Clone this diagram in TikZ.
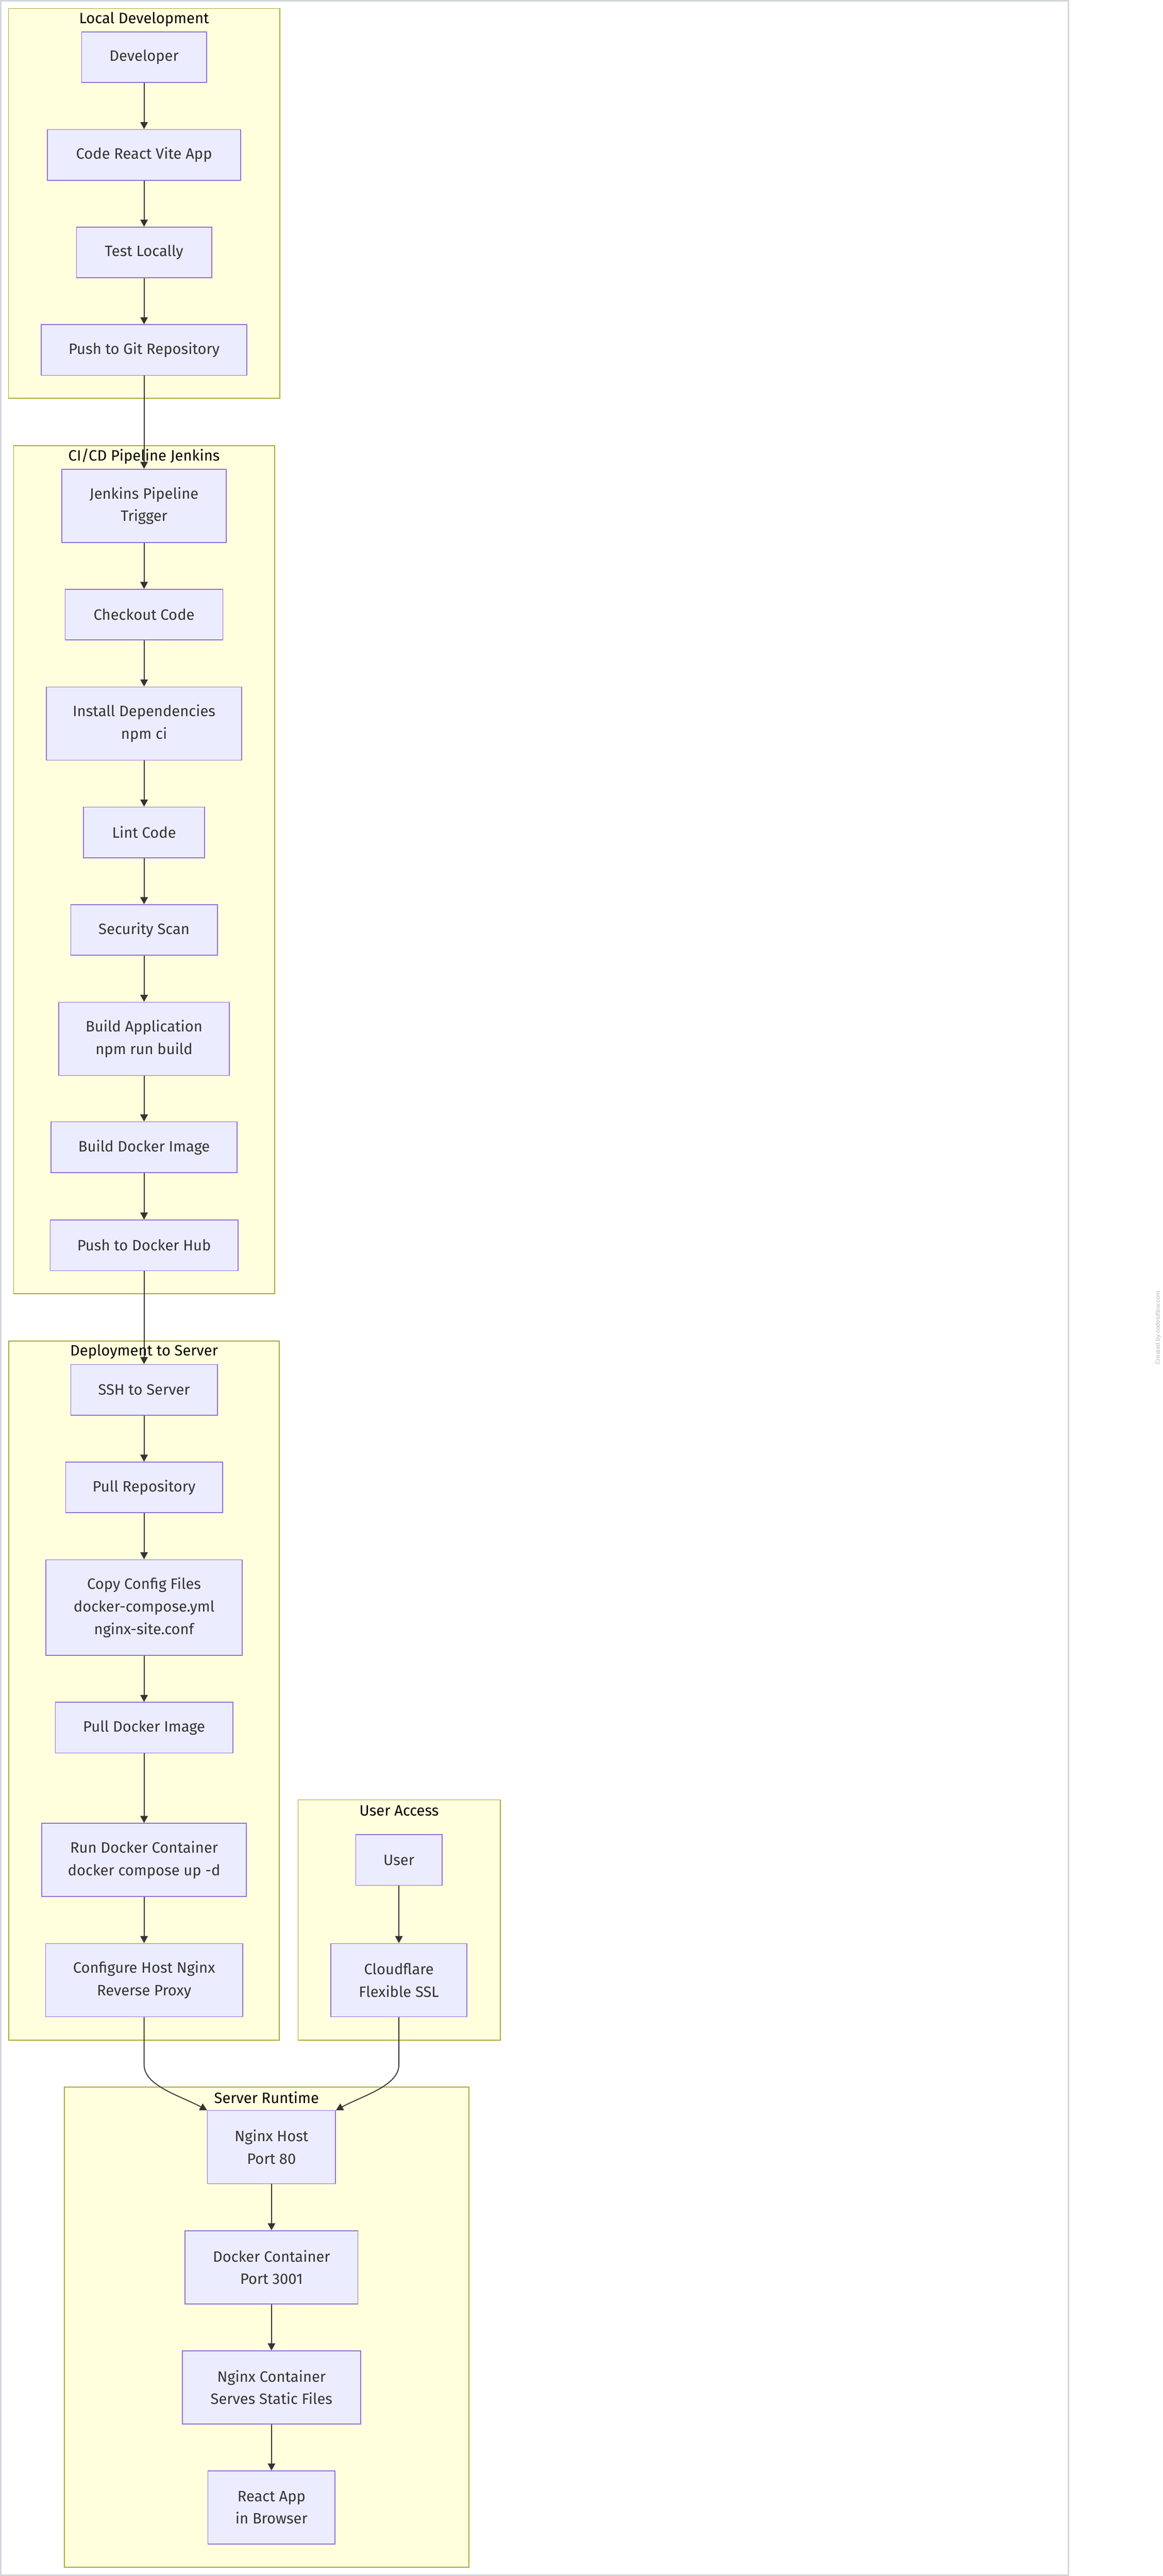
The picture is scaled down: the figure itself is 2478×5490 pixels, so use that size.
\documentclass[tikz,border=0pt]{standalone}
\usepackage{fontspec}
\usetikzlibrary{arrows.meta}
\newfontfamily\nodefont{Fira Sans}
\newfontfamily\wmfont{Liberation Sans}
\definecolor{nodefill}{HTML}{ECECFF}
\definecolor{nodeline}{HTML}{9370DB}
\definecolor{framefill}{HTML}{FFFFDE}
\definecolor{frameline}{HTML}{AAAA33}
\definecolor{edgecol}{HTML}{333333}
\definecolor{txtcol}{HTML}{333333}
\definecolor{bordercol}{HTML}{D3D7DE}
\definecolor{wmcol}{HTML}{B8B8B8}
\begin{document}
\begin{tikzpicture}[x=1pt,y=-1pt,
  box/.style={rectangle, fill=nodefill, draw=nodeline, line width=1.8pt, text=txtcol,
    font=\nodefont\fontsize{32}{48}\selectfont, align=center, inner sep=0pt},
  frame/.style={fill=framefill, draw=frameline, line width=1.8pt},
  ftitle/.style={font=\nodefont\fontsize{32}{40}\selectfont, text=black, inner sep=0pt},
  arr/.style={draw=edgecol, line width=2pt, -{Triangle[length=15pt,width=16pt]}}]
\useasboundingbox (0,0) rectangle (2478,5490);
\fill[white] (0,0) rectangle (2478,5490);
\draw[bordercol, line width=3pt] (1.5,1.5) rectangle (2277,5488.5);
\node[rotate=90, font=\wmfont\fontsize{13}{15}\selectfont, text=wmcol, inner sep=0pt] (wm) at (2468,2830) {Created by codetoflow.com};

% frames
\draw[frame] (18,18) rectangle (596,849);
\node[ftitle] (tld) at (307,41) {Local Development};
\draw[frame] (29,950) rectangle (585,2757);
\node[ftitle] (tci) at (307,973) {CI/CD Pipeline Jenkins};
\draw[frame] (19,2858) rectangle (595,4348);
\node[ftitle] (tdep) at (307,2881) {Deployment to Server};
\draw[frame] (635,3836) rectangle (1066,4348);
\node[ftitle] (tua) at (850.5,3859) {User Access};
\draw[frame] (137,4448) rectangle (999,5471);
\node[ftitle] (tsr) at (568,4470) {Server Runtime};

% Local Development
\node[box, minimum width=266pt, minimum height=108pt] (dev) at (307,122) {Developer};
\node[box, minimum width=412pt, minimum height=108pt] (code) at (307,330) {Code React Vite App};
\node[box, minimum width=288pt, minimum height=108pt] (test) at (307,538) {Test Locally};
\node[box, minimum width=438pt, minimum height=108pt] (push) at (307,746) {Push to Git Repository};

% CI/CD
\node[box, minimum width=350pt, minimum height=156pt] (jen) at (307,1078) {Jenkins Pipeline\\Trigger};
\node[box, minimum width=336pt, minimum height=108pt] (chk) at (307,1310) {Checkout Code};
\node[box, minimum width=416pt, minimum height=156pt] (inst) at (307,1542) {Install Dependencies\\npm ci};
\node[box, minimum width=258pt, minimum height=108pt] (lint) at (307,1774) {Lint Code};
\node[box, minimum width=312pt, minimum height=108pt] (sec) at (307,1982) {Security Scan};
\node[box, minimum width=363pt, minimum height=156pt] (bapp) at (307,2214) {Build Application\\npm run build};
\node[box, minimum width=396pt, minimum height=108pt] (bimg) at (307,2445) {Build Docker Image};
\node[box, minimum width=400pt, minimum height=108pt] (pdh) at (307,2654) {Push to Docker Hub};

% Deployment
\node[box, minimum width=312pt, minimum height=108pt] (ssh) at (307,2962) {SSH to Server};
\node[box, minimum width=334pt, minimum height=108pt] (prepo) at (307,3170) {Pull Repository};
\node[box, minimum width=418pt, minimum height=204pt] (copy) at (307,3426) {Copy Config Files\\docker-compose.yml\\nginx-site.conf};
\node[box, minimum width=378pt, minimum height=108pt] (pimg) at (307,3682) {Pull Docker Image};
\node[box, minimum width=436pt, minimum height=156pt] (run) at (307,3964) {Run Docker Container\\docker compose up -d};
\node[box, minimum width=420pt, minimum height=156pt] (conf) at (307,4220) {Configure Host Nginx\\Reverse Proxy};

% User Access
\node[box, minimum width=184pt, minimum height=108pt] (user) at (850,3964) {User};
\node[box, minimum width=290pt, minimum height=156pt] (cf) at (850,4220) {Cloudflare\\Flexible SSL};

% Server Runtime
\node[box, minimum width=273pt, minimum height=156pt] (nh) at (578.5,4576) {Nginx Host\\Port 80};
\node[box, minimum width=368pt, minimum height=156pt] (dc) at (578.5,4832) {Docker Container\\Port 3001};
\node[box, minimum width=380pt, minimum height=156pt] (nc) at (578.5,5088) {Nginx Container\\Serves Static Files};
\node[box, minimum width=271pt, minimum height=156pt] (app) at (578.5,5344) {React App\\in Browser};

% edges
\draw[arr] (dev) -- (code);
\draw[arr] (code) -- (test);
\draw[arr] (test) -- (push);
\draw[arr] (push) -- (jen);
\draw[arr] (jen) -- (chk);
\draw[arr] (chk) -- (inst);
\draw[arr] (inst) -- (lint);
\draw[arr] (lint) -- (sec);
\draw[arr] (sec) -- (bapp);
\draw[arr] (bapp) -- (bimg);
\draw[arr] (bimg) -- (pdh);
\draw[arr] (pdh) -- (ssh);
\draw[arr] (ssh) -- (prepo);
\draw[arr] (prepo) -- (copy);
\draw[arr] (copy) -- (pimg);
\draw[arr] (pimg) -- (run);
\draw[arr] (run) -- (conf);
\draw[arr] (user) -- (cf);
\coordinate (bl) at (307,4400);
\coordinate (br) at (850,4400);
\draw[arr] (conf.south) -- (bl) .. controls +(0,45) and +(-60,-32) .. (nh.north west);
\draw[arr] (cf.south) -- (br) .. controls +(0,45) and +(60,-32) .. (nh.north east);
\draw[arr] (nh) -- (dc);
\draw[arr] (dc) -- (nc);
\draw[arr] (nc) -- (app);
\end{tikzpicture}
\end{document}
